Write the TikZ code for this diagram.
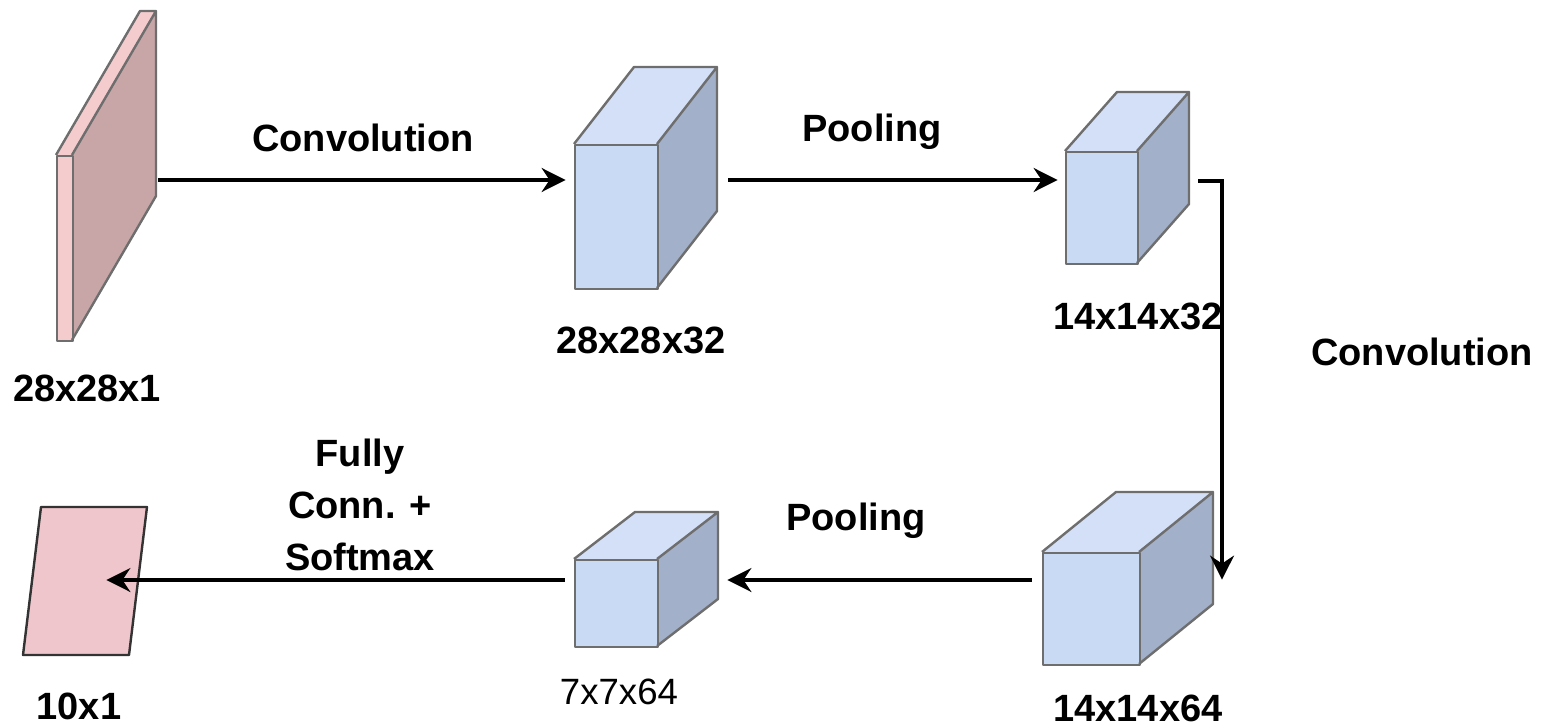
\documentclass[tikz,border=0pt]{standalone}
\usepackage{fontspec}
\setmainfont{Liberation Sans}
\usetikzlibrary{arrows.meta}

\definecolor{cubefront}{HTML}{C9DAF5}
\definecolor{cubetop}{HTML}{D3E0F7}
\definecolor{cubeside}{HTML}{A3B0CA}
\definecolor{cubeedge}{HTML}{6E6E6E}
\definecolor{slabfront}{HTML}{F4CCCE}
\definecolor{slabside}{HTML}{C8A6A8}
\definecolor{outfill}{HTML}{EFC6CC}

\tikzset{
  edge/.style={draw=cubeedge, line width=1.2pt, line join=round},
  flow/.style={draw=black, line width=1.6pt,
    -{Stealth[length=12pt, width=12pt, inset=4pt]}},
  lbl/.style={font=\fontsize{19}{26}\selectfont\bfseries, inner sep=0pt, align=center},
  lblthin/.style={font=\fontsize{18.3}{24}\selectfont, inner sep=0pt},
  port/.style={inner sep=0pt, minimum size=0pt},
}

% box: fill of front face, x, y (top-left of front face), width, height,
% depth dx, depth dy, top colour, side colour
\newcommand\boxblock[9]{%
  \fill[#9] (#2+#4,#3) -- (#2+#4+#6,#3+#7) -- (#2+#4+#6,#3+#5+#7) -- (#2+#4,#3+#5) -- cycle;
  \fill[#8] (#2,#3) -- (#2+#6,#3+#7) -- (#2+#4+#6,#3+#7) -- (#2+#4,#3) -- cycle;
  \node[edge, fill=#1, inner sep=0pt, minimum width=#4*0.5pt, minimum height=#5*0.5pt,
        anchor=north west] at (#2,#3) {};
  \draw[edge] (#2+#4,#3) -- (#2+#4+#6,#3+#7) -- (#2+#4+#6,#3+#5+#7) -- (#2+#4,#3+#5)
              (#2,#3) -- (#2+#6,#3+#7) -- (#2+#4+#6,#3+#7);
}

\begin{document}
\begin{tikzpicture}[x=0.5pt, y=-0.5pt]
\useasboundingbox (0,0) rectangle (1550,727);

% input slab 28x28x1
\boxblock{slabfront}{56}{155}{16}{185}{84}{-144}{slabfront}{slabside}
% feature maps
\boxblock{cubefront}{574}{144}{83}{144}{60}{-77}{cubetop}{cubeside}
\boxblock{cubefront}{1065}{151}{72}{112}{52}{-59}{cubetop}{cubeside}
\boxblock{cubefront}{1042}{552}{97}{112}{74}{-60}{cubetop}{cubeside}
\boxblock{cubefront}{574}{559}{83}{87}{61}{-47}{cubetop}{cubeside}

% output vector 10x1
\draw[fill=outfill, draw=black!80, line width=1.2pt, line join=round]
  (41,507) -- (147,507) -- (129,655) -- (23,655) -- cycle;

% connection ports
\node[port] (inR)   at (158,180) {};
\node[port] (c1L)   at (566,180) {};
\node[port] (c1R)   at (728,180) {};
\node[port] (c2L)   at (1058,180) {};
\node[port] (c2R)   at (1198,181) {};
\node[port] (c3T)   at (1222,580) {};
\node[port] (c3L)   at (1032,580) {};
\node[port] (c4R)   at (727,580) {};
\node[port] (c4L)   at (565,580) {};
\node[port] (outIn) at (106,580) {};

% data flow
\draw[flow] (inR) -- (c1L);
\draw[flow] (c1R) -- (c2L);
\draw[flow] (c2R) -| (c3T);
\draw[flow] (c3L) -- (c4R);
\draw[flow] (c4L) -- (outIn);

% operation labels
\node[lbl] (opconv1) at (363,138) {Convolution};
\node[lbl] (oppool1) at (872,132) {Pooling};
\node[lbl] (opconv2) at (1422,352) {Convolution};
\node[lbl] (oppool2) at (856,521) {Pooling};
\node[lbl] (opfc)    at (360,505) {Fully\\Conn. +\\Softmax};

% size labels
\node[lbl] (sz1) at (87,388)   {28x28x1};
\node[lbl] (sz2) at (641,340)  {28x28x32};
\node[lbl] (sz3) at (1138,316) {14x14x32};
\node[lbl] (sz4) at (1138,708) {14x14x64};
\node[lbl] (sz6) at (79,706)   {10x1};
\node[lblthin] (sz5) at (619,692) {7x7x64};
\end{tikzpicture}
\end{document}
